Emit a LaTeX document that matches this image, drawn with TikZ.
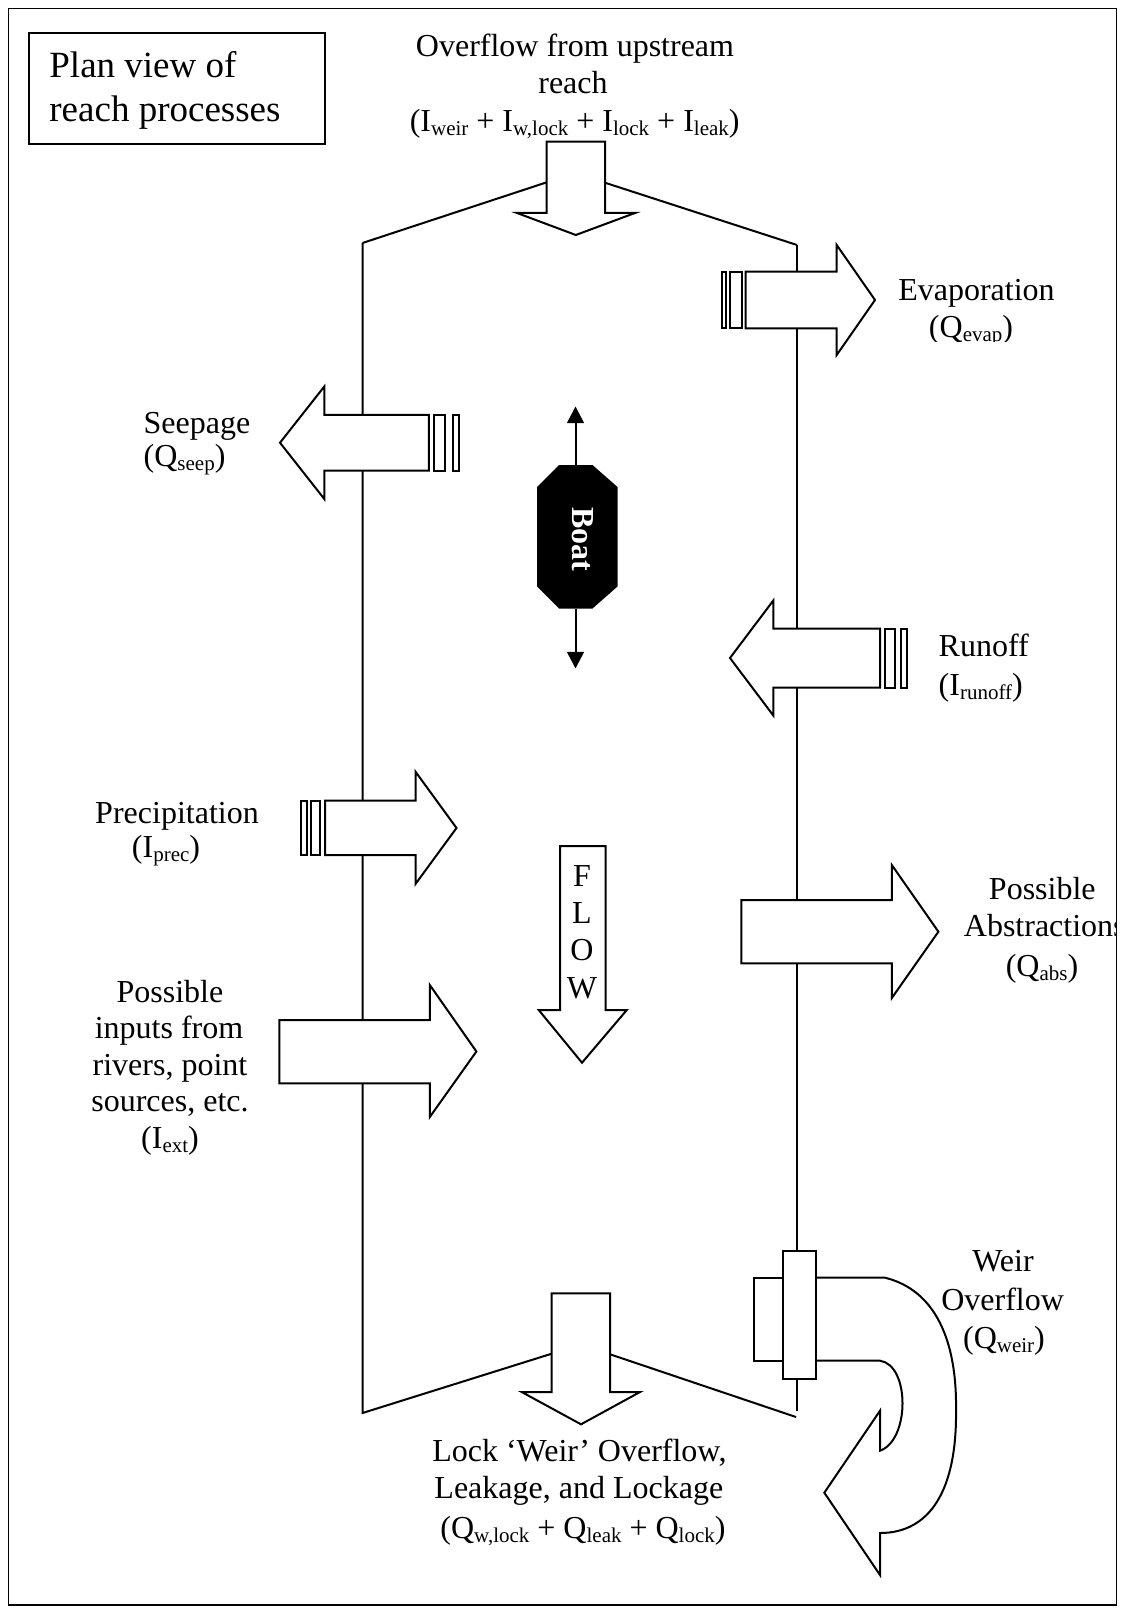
\documentclass[tikz,border=0pt]{standalone}
\usepackage{fontspec}
\setmainfont{Liberation Serif}
\usetikzlibrary{arrows.meta}
\newcommand\sbs[1]{\raisebox{-2pt}{\fontsize{10.5}{12}\selectfont #1}}
\tikzset{
  shp/.style={draw=black, fill=white, line width=1pt, line join=miter},
  wall/.style={draw=black, line width=1pt},
  lbl/.style={anchor=base, inner sep=0pt, font=\fontsize{16}{18.4}\selectfont},
  lblw/.style={lbl, anchor=base west},
  ttl/.style={anchor=base west, inner sep=0pt, font=\fontsize{18.5}{21.7}\selectfont},
  boatarrow/.style={line width=1pt, -{Triangle[length=8.3pt,width=8.4pt]}},
}
\begin{document}
\begin{tikzpicture}[x=0.5pt,y=-0.5pt]
\useasboundingbox (0,0) rectangle (1123,1609);
% frame
\draw[line width=0.8pt] (8.5,8.5) rectangle (1116.5,1605);
% title box
\draw[line width=1.2pt] (29,33) rectangle (325,144);
\node[ttl] (title1) at (49,78) {Plan view of};
\node[ttl] (title2) at (49,121.7) {reach processes};
% reach walls
\draw[wall] (362.5,243) -- (575,173) -- (797,245);
\draw[wall] (362.5,243) -- (362.5,1413) -- (581,1344.5) -- (796,1417);
\draw[wall] (797,245) -- (797,1411);
% top inflow arrow
\draw[shp] (546.6,141.7) -- (605,141.7) -- (605,213) -- (635,213) -- (575.8,235) -- (517,213) -- (546.6,213) -- cycle;
\node[lbl] (top1) at (575,56.7) {Overflow from upstream};
\node[lbl] (top2) at (573,93.3) {reach};
\node[lbl] (top3) at (574.7,131.7) {(I\sbs{weir} + I\sbs{w,lock} + I\sbs{lock} + I\sbs{leak})};
% evaporation
\draw[shp] (722.3,271.7) rectangle (726,328.3);
\draw[shp] (730,271.7) rectangle (741.5,328.3);
\draw[shp] (745.7,271.7) -- (836.7,271.7) -- (836.7,245) -- (875,300) -- (836.7,355) -- (836.7,328.3) -- (745.7,328.3) -- cycle;
\node[lbl] (evap1) at (976.5,300.7) {Evaporation};
\begin{scope}
  \clip (880,250) rectangle (1110,341.5);
  \node[lbl] (evap2) at (971,338) {(Q\sbs{evap})};
\end{scope}
% seepage
\draw[shp] (433.5,415) rectangle (444.5,470.5);
\draw[shp] (452.5,415) rectangle (458.5,470.5);
\draw[shp] (428.8,415) -- (324.3,415) -- (324.3,386.5) -- (280,442.7) -- (324.3,499) -- (324.3,470.5) -- (428.8,470.5) -- cycle;
\node[lblw] (seep1) at (143.3,433.3) {Seepage};
\node[lblw] (seep2) at (143.3,466.7) {(Q\sbs{seep})};
% boat
\fill[black] (559,465) -- (592.5,465) -- (617.5,487) -- (617.5,586.5) -- (592.5,608.5) -- (559,608.5) -- (537,586.5) -- (537,487) -- cycle;
\coordinate (bt) at (575.5,465);
\coordinate (bb) at (575.5,608.5);
\coordinate (btip) at (575.5,406.5);
\coordinate (bbtip) at (575.5,668.5);
\draw[boatarrow] (bt) -- (btip);
\draw[boatarrow] (bb) -- (bbtip);
\node[rotate=-90, anchor=base, inner sep=0pt, text=white, font=\bfseries\fontsize{16}{18}\selectfont] (boat) at (572,539) {Boat};
% runoff
\draw[shp] (885,628.5) rectangle (895,687.5);
\draw[shp] (901,628.5) rectangle (906.7,687.5);
\draw[shp] (880,628.5) -- (773.3,628.5) -- (773.3,600.5) -- (730,658) -- (773.3,715.5) -- (773.3,687.5) -- (880,687.5) -- cycle;
\node[lblw] (run1) at (938.3,656) {Runoff};
\node[lblw] (run2) at (938.3,695) {(I\sbs{runoff})};
% precipitation
\draw[shp] (300.7,800.7) rectangle (307,855);
\draw[shp] (311,800.7) rectangle (320,855);
\draw[shp] (325,800.7) -- (415.5,800.7) -- (415.5,771.7) -- (456.5,828) -- (415.5,884) -- (415.5,855) -- (325,855) -- cycle;
\node[lbl] (prec1) at (177,823.3) {Precipitation};
\node[lbl] (prec2) at (166,857) {(I\sbs{prec})};
% flow arrow
\draw[shp] (560.2,846) -- (605.5,846) -- (605.5,1010) -- (626.8,1010) -- (582,1062.7) -- (538.7,1010) -- (560.2,1010) -- cycle;
\node[lbl] (f1) at (582,886.7) {F};
\node[lbl] (f2) at (582,923.8) {L};
\node[lbl] (f3) at (582,960.9) {O};
\node[lbl] (f4) at (582,998) {W};
% abstractions
\draw[shp] (741.4,900) -- (891.8,900) -- (891.8,865) -- (938.4,931.7) -- (891.8,998) -- (891.8,963.3) -- (741.4,963.3) -- cycle;
\node[lbl] (abs1) at (1042.3,899) {Possible};
\begin{scope}
  \clip (900,850) rectangle (1116,1000);
  \node[lblw] (abs2) at (963.5,936.7) {Abstractions};
\end{scope}
\node[lbl] (abs3) at (1042,976.7) {(Q\sbs{abs})};
% external inputs
\draw[shp] (279.4,1020) -- (429.8,1020) -- (429.8,985) -- (476.4,1051.5) -- (429.8,1117) -- (429.8,1083.3) -- (279.4,1083.3) -- cycle;
\node[lbl] (ext1) at (170,1002.7) {Possible};
\node[lbl] (ext2) at (169,1038.3) {inputs from};
\node[lbl] (ext3) at (170,1075) {rivers, point};
\node[lbl] (ext4) at (170,1111.7) {sources, etc.};
\node[lbl] (ext5) at (170,1148.3) {(I\sbs{ext})};
% bottom outflow arrow
\draw[shp] (551.7,1293.3) -- (610,1293.3) -- (610,1392) -- (640,1392) -- (581,1424.3) -- (521.7,1392) -- (551.7,1392) -- cycle;
\node[lbl] (lock1) at (579.4,1461.7) {Lock ‘Weir’ Overflow,};
\node[lbl] (lock2) at (578.8,1498.3) {Leakage, and Lockage};
\node[lbl] (lock3) at (583,1538.3) {(Q\sbs{w,lock} + Q\sbs{leak} + Q\sbs{lock})};
% weir
\draw[shp] (754,1277.7) rectangle (783.3,1360.7);
\draw[shp] (816,1277.7) -- (885,1277.7) .. controls (935,1290) and (957,1340) .. (956,1410) .. controls (957,1490) and (930,1533) .. (880,1533) -- (880,1575) -- (824.3,1492.7) -- (880,1410.7) -- (880,1450.7) .. controls (910,1440) and (910,1365) .. (880,1360.7) -- (816,1360.7);
\draw[shp] (783.3,1251) rectangle (816,1379);
\node[lbl] (weir1) at (1003,1271.7) {Weir};
\node[lbl] (weir2) at (1002.6,1310) {Overflow};
\node[lbl] (weir3) at (1004,1348.3) {(Q\sbs{weir})};
\end{tikzpicture}
\end{document}
